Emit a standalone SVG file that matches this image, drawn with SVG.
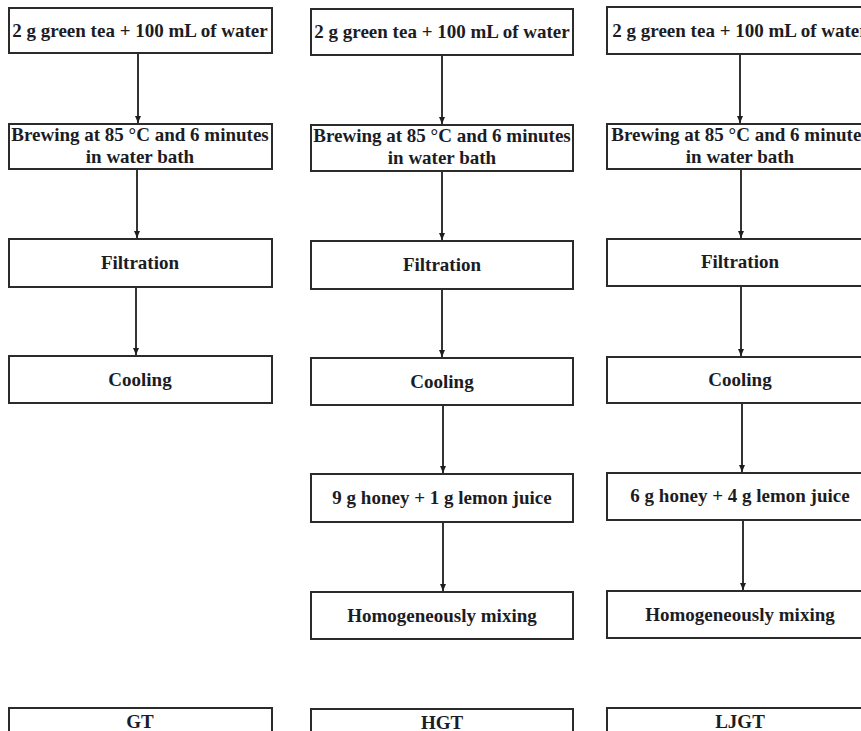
<svg xmlns="http://www.w3.org/2000/svg" width="861" height="731" viewBox="0 0 861 731">
<style>
.box{fill:#fff;stroke:#2b2b2b;stroke-width:2}
.t{font-family:"Liberation Serif","Times New Roman",serif;font-weight:bold;font-size:19px;fill:#1c1c24;text-anchor:middle}
.c{fill:none;stroke:#1e1e1e;stroke-width:1.8;marker-end:url(#ah)}
</style>
<defs>
<marker id="ah" markerUnits="userSpaceOnUse" markerWidth="8" markerHeight="8" refX="7" refY="4" orient="auto">
<path d="M0,1 L7,4 L0,7 z" fill="#1e1e1e"/>
</marker>
</defs>
<rect width="861" height="731" fill="#fff"/>
<g id="connectors">
<line class="c" x1="138" y1="54" x2="138" y2="123"/>
<line class="c" x1="137" y1="170" x2="137" y2="238"/>
<line class="c" x1="136" y1="288" x2="136" y2="355"/>
<line class="c" x1="442" y1="56" x2="442" y2="124"/>
<line class="c" x1="442" y1="172" x2="442" y2="240"/>
<line class="c" x1="442" y1="290" x2="442" y2="357"/>
<line class="c" x1="443" y1="406" x2="443" y2="473"/>
<line class="c" x1="443" y1="523" x2="443" y2="591"/>
<line class="c" x1="740" y1="55" x2="740" y2="123"/>
<line class="c" x1="741" y1="170" x2="741" y2="238"/>
<line class="c" x1="741" y1="287" x2="741" y2="356"/>
<line class="c" x1="742" y1="404" x2="742" y2="472"/>
<line class="c" x1="743" y1="521" x2="743" y2="590"/>
</g>
<g id="gt1"><rect class="box" x="9" y="8" width="263" height="45"/><text class="t" x="140" y="37">2 g green tea + 100 mL of water</text></g>
<g id="gt2"><rect class="box" x="9" y="124" width="263" height="45"/><text class="t" x="140" y="141">Brewing at 85 °C and 6 minutes</text><text class="t" x="140" y="163">in water bath</text></g>
<g id="gt3"><rect class="box" x="9" y="239" width="263" height="48"/><text class="t" x="140" y="269">Filtration</text></g>
<g id="gt4"><rect class="box" x="9" y="356" width="263" height="47"/><text class="t" x="140" y="386">Cooling</text></g>
<g id="gt5"><rect class="box" x="9" y="708" width="263" height="46"/><text class="t" x="140" y="728">GT</text></g>

<g id="hgt1"><rect class="box" x="311" y="9" width="262" height="46"/><text class="t" x="442" y="38">2 g green tea + 100 mL of water</text></g>
<g id="hgt2"><rect class="box" x="311" y="125" width="262" height="46"/><text class="t" x="442" y="142">Brewing at 85 °C and 6 minutes</text><text class="t" x="442" y="164">in water bath</text></g>
<g id="hgt3"><rect class="box" x="311" y="241" width="262" height="48"/><text class="t" x="442" y="271">Filtration</text></g>
<g id="hgt4"><rect class="box" x="311" y="358" width="262" height="47"/><text class="t" x="442" y="388">Cooling</text></g>
<g id="hgt5"><rect class="box" x="311" y="474" width="262" height="48"/><text class="t" x="442" y="504">9 g honey + 1 g lemon juice</text></g>
<g id="hgt6"><rect class="box" x="311" y="592" width="262" height="47"/><text class="t" x="442" y="622">Homogeneously mixing</text></g>
<g id="hgt7"><rect class="box" x="311" y="709" width="262" height="46"/><text class="t" x="442" y="729">HGT</text></g>

<g id="ljgt1"><rect class="box" x="607" y="7" width="263" height="47"/><text class="t" x="740" y="37">2 g green tea + 100 mL of water</text></g>
<g id="ljgt2"><rect class="box" x="607" y="124" width="263" height="45"/><text class="t" x="740" y="141">Brewing at 85 °C and 6 minutes</text><text class="t" x="740" y="163">in water bath</text></g>
<g id="ljgt3"><rect class="box" x="607" y="239" width="263" height="47"/><text class="t" x="740" y="268">Filtration</text></g>
<g id="ljgt4"><rect class="box" x="607" y="357" width="263" height="46"/><text class="t" x="740" y="386">Cooling</text></g>
<g id="ljgt5"><rect class="box" x="607" y="473" width="263" height="47"/><text class="t" x="740" y="502">6 g honey + 4 g lemon juice</text></g>
<g id="ljgt6"><rect class="box" x="607" y="591" width="263" height="47"/><text class="t" x="740" y="621">Homogeneously mixing</text></g>
<g id="ljgt7"><rect class="box" x="607" y="708" width="263" height="46"/><text class="t" x="740" y="728">LJGT</text></g>
</svg>
